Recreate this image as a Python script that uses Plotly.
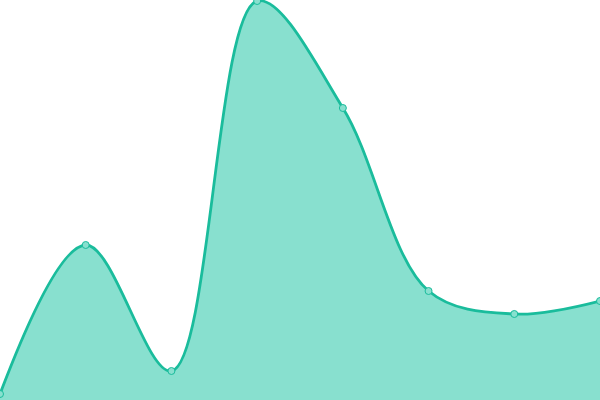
import plotly.graph_objects as go

x_vals = [0, 1, 2, 3, 4, 5, 6, 7]
y_vals = [6, 155, 29, 399, 292, 109, 86, 99]

fig = go.Figure()
fig.add_trace(go.Scatter(
    x=x_vals, y=y_vals,
    mode="lines+markers",
    line=dict(shape="spline", smoothing=1.0, color="#1abc9c", width=2.8),
    fill="tozeroy",
    fillcolor="#88e0cf",
    marker=dict(size=7, color="#88e0cf", line=dict(color="#1abc9c", width=1)),
    cliponaxis=False,
    hoverinfo="x+y",
))
fig.update_layout(
    width=600, height=400,
    margin=dict(l=0, r=0, t=0, b=0),
    paper_bgcolor="white", plot_bgcolor="white",
    showlegend=False,
    xaxis=dict(visible=False, range=[0, 7], fixedrange=True),
    yaxis=dict(visible=False, range=[0, 400], fixedrange=True),
)
fig.write_html(
    "out.html",
    config={"displayModeBar": False},
    post_script="document.body.style.margin='0';document.body.style.overflow='hidden';",
)
